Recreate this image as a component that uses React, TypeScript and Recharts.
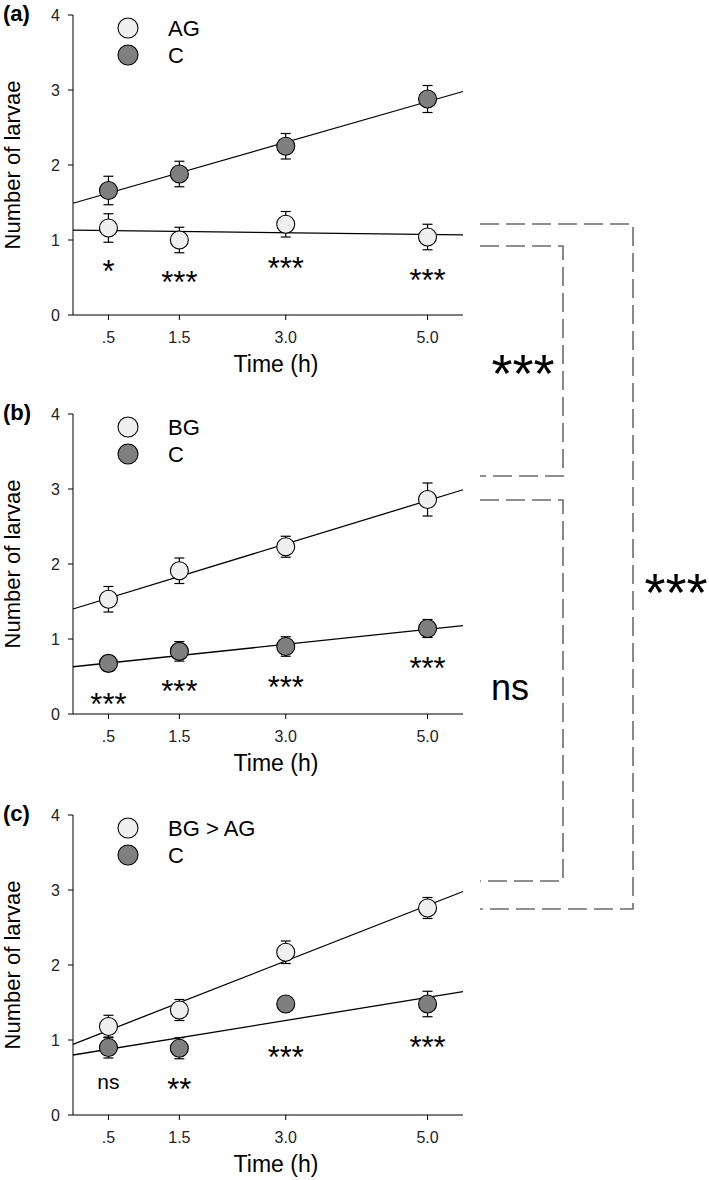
import React from 'react';
import { ComposedChart, Scatter, Line, XAxis, YAxis, ErrorBar } from 'recharts';

const FONT = '"Liberation Sans", Arial, sans-serif';

// shared axes
const times = [0.5, 1.5, 3, 5];
const timeLabels = ['.5', '1.5', '3.0', '5.0'];
const yTicks = [0, 1, 2, 3, 4];
const fitX = [0, 5.5];

// (a) AG vs C
const agMean = [1.16, 1.0, 1.21, 1.04];
const agErr = [0.19, 0.17, 0.17, 0.17];
const cMeanA = [1.66, 1.88, 2.25, 2.88];
const cErrA = [0.19, 0.17, 0.17, 0.18];
const agFit = [1.133, 1.067];
const cFitA = [1.49, 2.98];
const sigA = ['*', '***', '***', '***'];
const sigAY = [0.67, 0.53, 0.71, 0.55];

// (b) BG vs C
const bgMean = [1.53, 1.91, 2.23, 2.86];
const bgErr = [0.17, 0.17, 0.14, 0.22];
const cMeanB = [0.675, 0.835, 0.9, 1.14];
const cErrB = [0.1, 0.13, 0.13, 0.12];
const bgFit = [1.4, 2.99];
const cFitB = [0.63, 1.177];
const sigB = ['***', '***', '***', '***'];
const sigBY = [0.22, 0.39, 0.45, 0.7];

// (c) BG > AG vs C
const bgagMean = [1.18, 1.4, 2.17, 2.76];
const bgagErr = [0.15, 0.14, 0.15, 0.14];
const cMeanC = [0.9, 0.89, 1.48, 1.48];
const cErrC = [0.14, 0.14, 0.08, 0.17];
const bgagFit = [0.943, 2.98];
const cFitC = [0.8, 1.644];
const sigC = ['ns', '**', '***', '***'];
const sigCY = [0.42, 0.44, 0.86, 0.99];

// comparisons between panels (levels in each panel's y units)
const bracketLabels = ['***', 'ns', '***'];
const bracketFrom = [[0, 0.92], [1, 2.853], [0, 1.213]];
const bracketTo = [[1, 3.173], [2, 3.12], [2, 2.747]];

const LIGHT = '#efefef';
const DARK = '#7f7f7f';

const points = (mean: number[], err: number[]) =>
  times.map((x, i) => ({ x, y: mean[i], err: err[i] }));
const fitLine = (ends: number[]) => fitX.map((x, i) => ({ x, y: ends[i] }));
const sigPoints = (labels: string[], ys: number[]) =>
  times.map((x, i) => ({ x, y: ys[i], label: labels[i] }));

const panels = [
  {
    tag: '(a)', names: ['AG', 'C'], top: 0, height: 400,
    treat: points(agMean, agErr), ctrl: points(cMeanA, cErrA),
    treatFit: fitLine(agFit), ctrlFit: fitLine(cFitA), sig: sigPoints(sigA, sigAY),
  },
  {
    tag: '(b)', names: ['BG', 'C'], top: 399, height: 400,
    treat: points(bgMean, bgErr), ctrl: points(cMeanB, cErrB),
    treatFit: fitLine(bgFit), ctrlFit: fitLine(cFitB), sig: sigPoints(sigB, sigBY),
  },
  {
    tag: '(c)', names: ['BG > AG', 'C'], top: 800, height: 380,
    treat: points(bgagMean, bgagErr), ctrl: points(cMeanC, cErrC),
    treatFit: fitLine(bgagFit), ctrlFit: fitLine(cFitC), sig: sigPoints(sigC, sigCY),
  },
];

const PLOT_TOP = 15;
const PLOT_H = 300;
const toPx = (panel: number, v: number) =>
  panels[panel].top + PLOT_TOP + ((4 - v) / 4) * PLOT_H;

const dot = (fill: string) => (p: any) => (
  <circle cx={p.cx} cy={p.cy} r={9} fill={fill} stroke="#000" strokeWidth={1.1} />
);

const sigShape = (p: any) => {
  const isNs = p.payload.label === 'ns';
  return (
    <text
      x={p.cx}
      y={p.cy}
      dy={isNs ? '0.27em' : '0.57em'}
      textAnchor="middle"
      fontFamily={FONT}
      fontSize={isNs ? 21 : 31}
      fill="#000"
    >
      {p.payload.label}
    </text>
  );
};

const XTick = (p: any) => (
  <text x={p.x} y={p.y} dy="0.72em" textAnchor="middle" fontSize={16} fill="#222" fontFamily={FONT}>
    {timeLabels[times.indexOf(p.payload.value)]}
  </text>
);

const YTick = (p: any) => (
  <text x={p.x} y={p.y} dy="0.36em" textAnchor="end" fontSize={16} fill="#222" fontFamily={FONT}>
    {p.payload.value}
  </text>
);

const Panel = ({ p }: { p: (typeof panels)[number] }) => (
  <ComposedChart
    width={709}
    height={p.height}
    margin={{ top: PLOT_TOP, right: 246, bottom: p.height - PLOT_TOP - PLOT_H - 60, left: 0 }}
  >
    <XAxis
      type="number"
      dataKey="x"
      domain={[0, 5.5]}
      ticks={times}
      height={60}
      tickSize={5}
      tickMargin={11}
      stroke="#000"
      tick={XTick}
      label={{ value: 'Time (h)', position: 'insideBottom', offset: 3, dx: 8, fontSize: 23, fill: '#000', fontFamily: FONT }}
    />
    <YAxis
      type="number"
      dataKey="y"
      domain={[0, 4]}
      ticks={yTicks}
      width={73}
      tickSize={5}
      tickMargin={8}
      stroke="#000"
      tick={YTick}
      label={{ value: 'Number of larvae', angle: -90, position: 'insideLeft', offset: 12, style: { textAnchor: 'middle' }, fontSize: 22, fill: '#000', fontFamily: FONT }}
    />
    <Line data={p.treatFit} dataKey="y" stroke="#000" strokeWidth={1.3} dot={false} isAnimationActive={false} />
    <Line data={p.ctrlFit} dataKey="y" stroke="#000" strokeWidth={1.3} dot={false} isAnimationActive={false} />
    <Scatter data={p.ctrl} dataKey="y" shape={dot(DARK)} isAnimationActive={false}>
      <ErrorBar dataKey="err" direction="y" width={5} stroke="#000" strokeWidth={1.2} />
    </Scatter>
    <Scatter data={p.treat} dataKey="y" shape={dot(LIGHT)} isAnimationActive={false}>
      <ErrorBar dataKey="err" direction="y" width={5} stroke="#000" strokeWidth={1.2} />
    </Scatter>
    <Scatter data={p.sig} dataKey="y" shape={sigShape} isAnimationActive={false} />
  </ComposedChart>
);

export default function App() {
  return (
    <div style={{ position: 'absolute', left: 0, top: 0, width: 709, height: 1180, overflow: 'hidden', background: '#fff' }}>
      {panels.map((p) => (
        <div key={p.tag} style={{ position: 'absolute', left: 0, top: p.top }}>
          <Panel p={p} />
        </div>
      ))}
      <svg width={709} height={1180} style={{ position: 'absolute', left: 0, top: 0, pointerEvents: 'none' }}>
        {panels.map((p) => {
          const t = p.top + PLOT_TOP;
          return (
            <g key={p.tag} fontFamily={FONT}>
              <text x={3} y={t + 6} fontSize={22} fontWeight="bold">{p.tag}</text>
              <circle cx={128} cy={t + 13} r={10} fill={LIGHT} stroke="#000" strokeWidth={1.1} />
              <circle cx={128} cy={t + 40} r={10} fill={DARK} stroke="#000" strokeWidth={1.1} />
              <text x={168} y={t + 13} dy="0.36em" fontSize={22}>{p.names[0]}</text>
              <text x={168} y={t + 40} dy="0.36em" fontSize={22}>{p.names[1]}</text>
            </g>
          );
        })}
        {bracketLabels.map((lab, i) => {
          const y1 = toPx(bracketFrom[i][0], bracketFrom[i][1]);
          const y2 = toPx(bracketTo[i][0], bracketTo[i][1]);
          const xv = i === 2 ? 633 : 563;
          const isNs = lab === 'ns';
          const lx = i === 2 ? 676 : isNs ? 510 : 523;
          const ly = i === 2 ? 580 : (y1 + y2) / 2;
          return (
            <g key={i}>
              <path
                d={`M480,${y1} H${xv} V${y2} H480`}
                fill="none"
                stroke="#6b6b6b"
                strokeWidth={1.6}
                strokeDasharray="19 7"
              />
              <text
                x={lx}
                y={ly}
                dy={isNs ? '0.27em' : '0.57em'}
                textAnchor="middle"
                fontFamily={FONT}
                fontSize={isNs ? 36 : 54}
              >
                {lab}
              </text>
            </g>
          );
        })}
      </svg>
    </div>
  );
}
